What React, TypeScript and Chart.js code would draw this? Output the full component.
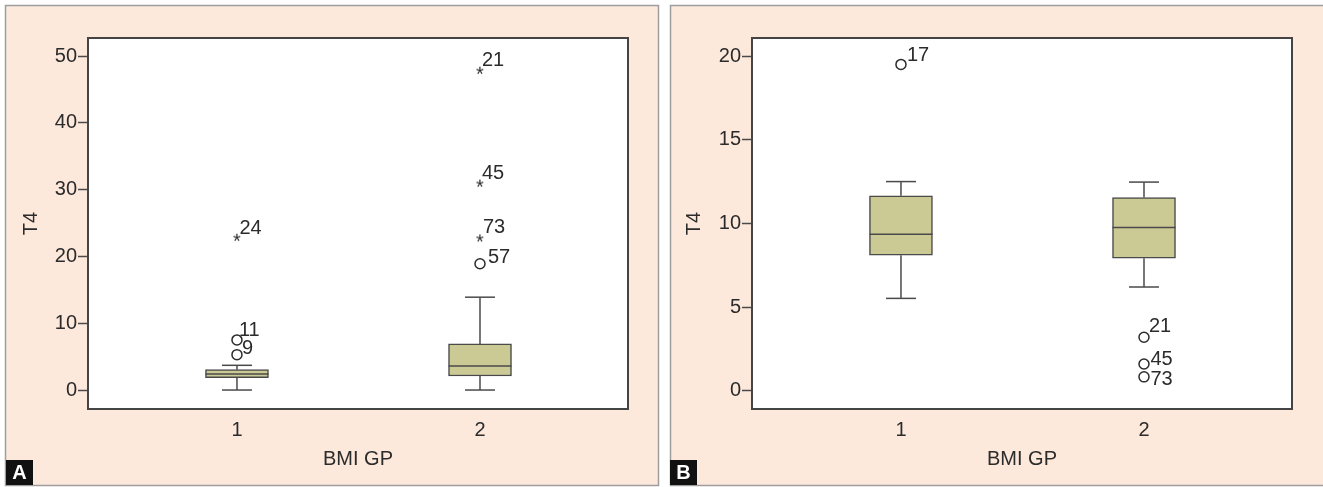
import { useEffect, useRef } from 'react';
import { Chart, registerables } from 'chart.js';

Chart.register(...registerables);

// ---- data -------------------------------------------------------------
const groups = [1, 2];
const groupTicks = [1, 2];

// Panel A – T4 by BMI group
const aYTicks = [0, 10, 20, 30, 40, 50];
const aWhiskerLow = [0.0, 0.0];
const aQ1 = [1.85, 2.1];
const aMedian = [2.4, 3.6];
const aQ3 = [3.05, 6.9];
const aWhiskerHigh = [3.7, 13.9];
const aOutlierGroup = [1, 1, 1, 2, 2, 2, 2];
const aOutlierValue = [5.3, 7.5, 22.8, 18.9, 22.7, 30.9, 47.8];
const aOutlierCase = ['9', '11', '24', '57', '73', '45', '21'];
const aOutlierMark = ['o', 'o', '*', 'o', '*', '*', '*'];

// Panel B – T4 by BMI group
const bYTicks = [0, 5, 10, 15, 20];
const bWhiskerLow = [5.52, 6.2];
const bQ1 = [8.1, 7.92];
const bMedian = [9.35, 9.75];
const bQ3 = [11.65, 11.55];
const bWhiskerHigh = [12.5, 12.47];
const bOutlierGroup = [1, 2, 2, 2];
const bOutlierValue = [19.5, 3.2, 1.6, 0.83];
const bOutlierCase = ['17', '21', '45', '73'];
const bOutlierMark = ['o', 'o', 'o', 'o'];

// ---- styling ----------------------------------------------------------
const H = 487;
const PLOT_TOP = 38;
const PLOT_BOTTOM = 409;
const FONT = '"Liberation Sans", Arial, Helvetica, sans-serif';
const TEXT = '#2b2b2b';
const LINE = '#4a4a4a';
const PANEL_BG = '#fde8dc';
const PANEL_BORDER = '#9e9e9e';
const BOX_FILL = '#cbca95';
const CAP_HALF = 15;

type Panel = {
  letter: string;
  width: number;
  left: number;
  border: { x: number; y: number; w: number; h: number };
  letterBox: { x: number; y: number; w: number; h: number };
  plotLeft: number;
  plotRight: number;
  xMin: number;
  xMax: number;
  yMin: number;
  yMax: number;
  yTicks: number[];
  titlePad: number;
  lo: number[];
  q1: number[];
  med: number[];
  q3: number[];
  hi: number[];
  outGroup: number[];
  outValue: number[];
  outCase: string[];
  outMark: string[];
  nudge: Record<string, [number, number]>;
};

const panels: Panel[] = [
  {
    letter: 'A',
    width: 662,
    left: 0,
    border: { x: 5.5, y: 5.5, w: 653, h: 480 },
    letterBox: { x: 6, y: 460, w: 27, h: 25 },
    plotLeft: 88,
    plotRight: 628,
    xMin: 0.387,
    xMax: 2.609,
    yMin: -2.84,
    yMax: 52.7,
    yTicks: aYTicks,
    titlePad: 19.5,
    lo: aWhiskerLow,
    q1: aQ1,
    med: aMedian,
    q3: aQ3,
    hi: aWhiskerHigh,
    outGroup: aOutlierGroup,
    outValue: aOutlierValue,
    outCase: aOutlierCase,
    outMark: aOutlierMark,
    nudge: { '9': [5, -1], '11': [2, -3.5], '24': [2.5, -3.5], '57': [8, -1], '73': [3, -5] },
  },
  {
    letter: 'B',
    width: 661,
    left: 662,
    border: { x: 8.5, y: 5.5, w: 660, h: 480 },
    letterBox: { x: 8, y: 460, w: 27, h: 25 },
    plotLeft: 90,
    plotRight: 630,
    xMin: 0.387,
    xMax: 2.609,
    yMin: -1.09,
    yMax: 21.08,
    yTicks: bYTicks,
    titlePad: 20.5,
    lo: bWhiskerLow,
    q1: bQ1,
    med: bMedian,
    q3: bQ3,
    hi: bWhiskerHigh,
    outGroup: bOutlierGroup,
    outValue: bOutlierValue,
    outCase: bOutlierCase,
    outMark: bOutlierMark,
    nudge: { '17': [6, -3.5], '21': [5, -5.5], '45': [6.5, 1.5], '73': [6.5, 8] },
  },
];

// Small asterisk glyph used as an extreme-value marker
function makeStar(): HTMLCanvasElement {
  const c = document.createElement('canvas');
  c.width = 16;
  c.height = 16;
  const ctx = c.getContext('2d')!;
  ctx.font = `20px ${FONT}`;
  ctx.fillStyle = TEXT;
  const m = ctx.measureText('*');
  const bx = 8 - (m.actualBoundingBoxRight - m.actualBoundingBoxLeft) / 2;
  const by = 8 + (m.actualBoundingBoxAscent - m.actualBoundingBoxDescent) / 2;
  ctx.fillText('*', bx, by);
  return c;
}

function panelPlugin(p: Panel) {
  return {
    id: 'panelDecor' + p.letter,
    beforeDraw(chart: any) {
      const { ctx, chartArea } = chart;
      ctx.save();
      ctx.fillStyle = '#ffffff';
      ctx.fillRect(0, 0, chart.width, chart.height);
      ctx.fillStyle = PANEL_BG;
      ctx.fillRect(p.border.x, p.border.y, p.border.w, p.border.h);
      ctx.strokeStyle = PANEL_BORDER;
      ctx.lineWidth = 1.5;
      ctx.strokeRect(p.border.x, p.border.y, p.border.w, p.border.h);
      ctx.fillStyle = '#ffffff';
      ctx.fillRect(chartArea.left, chartArea.top, chartArea.right - chartArea.left, chartArea.bottom - chartArea.top);
      ctx.restore();
    },
    afterDatasetsDraw(chart: any) {
      const { ctx, chartArea } = chart;
      const xs = chart.scales.x;
      const ys = chart.scales.y;
      const boxes = chart.getDatasetMeta(0).data;
      ctx.save();
      ctx.strokeStyle = LINE;
      ctx.lineWidth = 1.5;
      const seg = (x1: number, y1: number, x2: number, y2: number) => {
        ctx.beginPath();
        ctx.moveTo(x1, y1);
        ctx.lineTo(x2, y2);
        ctx.stroke();
      };
      groups.forEach((g, i) => {
        const cx = xs.getPixelForValue(g);
        const yLo = ys.getPixelForValue(p.lo[i]);
        const yQ1 = ys.getPixelForValue(p.q1[i]);
        const yQ3 = ys.getPixelForValue(p.q3[i]);
        const yHi = ys.getPixelForValue(p.hi[i]);
        const yMed = ys.getPixelForValue(p.med[i]);
        seg(cx, yQ3, cx, yHi);
        seg(cx - CAP_HALF, yHi, cx + CAP_HALF, yHi);
        seg(cx, yQ1, cx, yLo);
        seg(cx - CAP_HALF, yLo, cx + CAP_HALF, yLo);
        const half = boxes[i].width / 2;
        seg(cx - half, yMed, cx + half, yMed);
      });

      // case numbers next to the outliers
      ctx.fillStyle = TEXT;
      ctx.font = `20px ${FONT}`;
      ctx.textAlign = 'left';
      ctx.textBaseline = 'alphabetic';
      const pts = chart.getDatasetMeta(1).data;
      pts.forEach((pt: any, i: number) => {
        const def: [number, number] = p.outMark[i] === '*' ? [2, -5] : [6, -2];
        const [dx, dy] = p.nudge[p.outCase[i]] || def;
        ctx.fillText(p.outCase[i], pt.x + dx, pt.y + dy);
      });

      // plot frame
      ctx.strokeStyle = '#444444';
      ctx.lineWidth = 2;
      ctx.strokeRect(chartArea.left, chartArea.top, chartArea.right - chartArea.left, chartArea.bottom - chartArea.top);

      // panel letter
      const lb = p.letterBox;
      ctx.fillStyle = '#111111';
      ctx.fillRect(lb.x, lb.y, lb.w, lb.h);
      ctx.fillStyle = '#ffffff';
      ctx.font = `bold 20px ${FONT}`;
      ctx.textAlign = 'center';
      ctx.textBaseline = 'middle';
      ctx.fillText(p.letter, lb.x + lb.w / 2, lb.y + lb.h / 2 + 1);
      ctx.restore();
    },
  };
}

function buildConfig(p: Panel, star: HTMLCanvasElement): any {
  return {
    type: 'bar',
    data: {
      datasets: [
        {
          type: 'bar',
          data: groups.map((g, i) => ({ x: g, y: [p.q1[i], p.q3[i]] })),
          backgroundColor: BOX_FILL,
          borderColor: LINE,
          borderWidth: 1.5,
          borderSkipped: false,
          barThickness: 63,
        },
        {
          type: 'scatter',
          data: p.outValue.map((v, i) => ({ x: p.outGroup[i], y: v })),
          pointStyle: p.outMark.map((m) => (m === '*' ? star : 'circle')),
          pointRadius: 5,
          pointBorderWidth: 1.5,
          pointBorderColor: TEXT,
          pointBackgroundColor: 'rgba(0,0,0,0)',
        },
      ],
    },
    options: {
      responsive: false,
      animation: false,
      devicePixelRatio: 1,
      layout: { padding: { top: PLOT_TOP, left: 0, right: p.width - p.plotRight, bottom: 0 } },
      font: { family: FONT },
      plugins: { legend: { display: false }, tooltip: { enabled: false } },
      events: [],
      scales: {
        x: {
          type: 'linear',
          min: p.xMin,
          max: p.xMax,
          offset: false,
          bounds: 'data',
          afterBuildTicks: (s: any) => {
            s.ticks = groupTicks.map((v) => ({ value: v }));
          },
          afterFit: (s: any) => {
            s.height = H - PLOT_BOTTOM;
          },
          grid: { display: false, offset: false },
          border: { display: false },
          ticks: {
            padding: 1,
            color: TEXT,
            font: { family: FONT, size: 20 },
            callback: (v: any) => String(v),
          },
          title: {
            display: true,
            text: 'BMI GP',
            color: TEXT,
            font: { family: FONT, size: 20 },
            padding: { top: 0, bottom: 16 },
          },
        },
        y: {
          type: 'linear',
          min: p.yMin,
          max: p.yMax,
          bounds: 'data',
          afterBuildTicks: (s: any) => {
            s.ticks = p.yTicks.map((v) => ({ value: v }));
          },
          afterFit: (s: any) => {
            s.width = p.plotLeft;
          },
          grid: {
            drawOnChartArea: false,
            drawTicks: true,
            tickLength: 10,
            tickColor: LINE,
            tickWidth: 1.5,
          },
          border: { display: false },
          ticks: {
            padding: 1,
            color: TEXT,
            font: { family: FONT, size: 20 },
            callback: (v: any) => String(v),
          },
          title: {
            display: true,
            text: 'T4',
            color: TEXT,
            font: { family: FONT, size: 20 },
            padding: { top: p.titlePad, bottom: 0 },
          },
        },
      },
    },
    plugins: [panelPlugin(p)],
  };
}

function PanelChart({ p }: { p: Panel }) {
  const ref = useRef<HTMLCanvasElement>(null);
  useEffect(() => {
    const chart = new Chart(ref.current!, buildConfig(p, makeStar()));
    return () => chart.destroy();
  }, [p]);
  return (
    <canvas
      ref={ref}
      width={p.width}
      height={H}
      style={{ position: 'absolute', left: p.left, top: 0, width: p.width, height: H, display: 'block' }}
    />
  );
}

export default function App() {
  useEffect(() => {
    document.body.style.margin = '0';
  }, []);
  return (
    <div style={{ position: 'relative', width: 1323, height: H, background: '#ffffff', overflow: 'hidden' }}>
      {panels.map((p) => (
        <PanelChart key={p.letter} p={p} />
      ))}
    </div>
  );
}
